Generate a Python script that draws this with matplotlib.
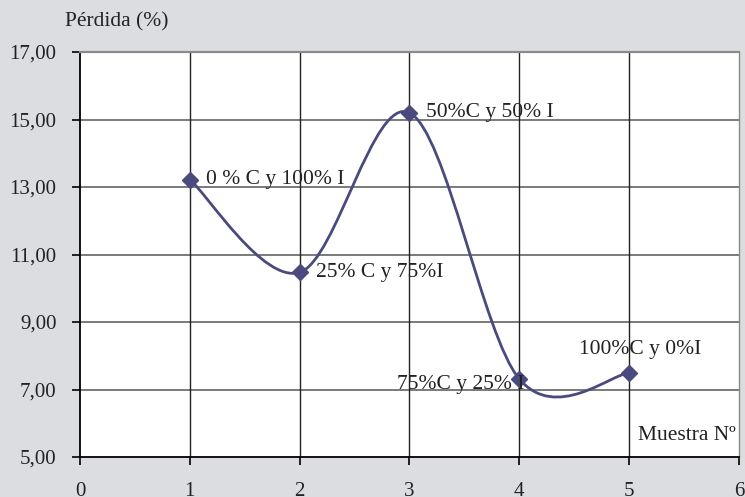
import numpy as np
import matplotlib.pyplot as plt
from matplotlib.path import Path
from matplotlib.patches import PathPatch

plt.rcParams["font.family"] = ["Liberation Serif", "DejaVu Serif"]

muestra = [1, 2, 3, 4, 5]
perdida = [13.22, 10.47, 15.20, 7.31, 7.49]
etiquetas = ["0 % C y 100% I", "25% C y 75%I", "50%C y 50% I", "75%C y 25% I", "100%C y 0%I"]
yticks = [5, 7, 9, 11, 13, 15, 17]
xticks = [0, 1, 2, 3, 4, 5, 6]

color_linea = "#4a4a7e"
fondo = "#dcdde0"
fs = 15.5

def smooth_path(x, y, t=1/6):
    # curva suave tipo Excel (Catmull-Rom a Bezier)
    verts = [(x[0], y[0])]
    codes = [Path.MOVETO]
    n = len(x)
    for i in range(n - 1):
        x0, y0 = (x[i-1], y[i-1]) if i > 0 else (x[i], y[i])
        x3, y3 = (x[i+2], y[i+2]) if i + 2 < n else (x[i+1], y[i+1])
        c1 = (x[i] + (x[i+1] - x0) * t, y[i] + (y[i+1] - y0) * t)
        c2 = (x[i+1] - (x3 - x[i]) * t, y[i+1] - (y3 - y[i]) * t)
        verts += [c1, c2, (x[i+1], y[i+1])]
        codes += [Path.CURVE4] * 3
    return Path(verts, codes)

fig = plt.figure(figsize=(7.45, 4.97), dpi=100, facecolor=fondo)
ax = fig.add_axes([80/745, 1 - 457/497, 659/745, 405/497])
ax.set_facecolor("white")

ax.set_xlim(0, 6)
ax.set_ylim(5, 17)
ax.set_xticks(xticks)
ax.set_yticks(yticks)
ax.set_yticklabels([f"{v:.2f}".replace(".", ",") for v in yticks])
ax.tick_params(axis="both", labelsize=15, length=6, width=1.2, color="black", labelcolor="#222222")
ax.tick_params(axis="x", pad=12)
ax.tick_params(axis="y", pad=11)

for v in yticks[1:-1]:
    ax.axhline(v, color="#7a7a7a", lw=1.4, zorder=1)
for v in xticks[1:-1]:
    ax.axvline(v, color="#222222", lw=1.0, zorder=1)

ax.spines["left"].set_color("black")
ax.spines["bottom"].set_color("black")
ax.spines["left"].set_linewidth(1.3)
ax.spines["bottom"].set_linewidth(1.3)
ax.spines["top"].set_color("#8a8a8a")
ax.spines["top"].set_linewidth(1.6)
ax.spines["right"].set_color("#8a8a8a")
ax.spines["right"].set_linewidth(1.0)

ax.add_patch(PathPatch(smooth_path(muestra, perdida), fill=False,
                       edgecolor=color_linea, lw=2.0, zorder=3))
ax.plot(muestra, perdida, ls="none", marker="D", ms=8.5,
        color=color_linea, zorder=4, clip_on=False)

offs = [((12, 0), "left", "center"), ((12, 0), "left", "center"),
        ((12, 0), "left", "center"), ((4, -4), "right", "center"),
        ((8, 17), "center", "center")]
for x, y, lab, (o, ha, va) in zip(muestra, perdida, etiquetas, offs):
    ax.annotate(lab, (x, y), xytext=o, textcoords="offset points",
                ha=ha, va=va, fontsize=fs, color="#222222", zorder=5)

ax.text(5.97, 5.65, "Muestra Nº", ha="right", va="center", fontsize=fs, color="#222222")
fig.text(65/745, 1 - 22/497, "Pérdida (%)", ha="left", va="center", fontsize=fs, color="#222222")

fig.savefig("out.png", dpi=100, facecolor=fondo)
